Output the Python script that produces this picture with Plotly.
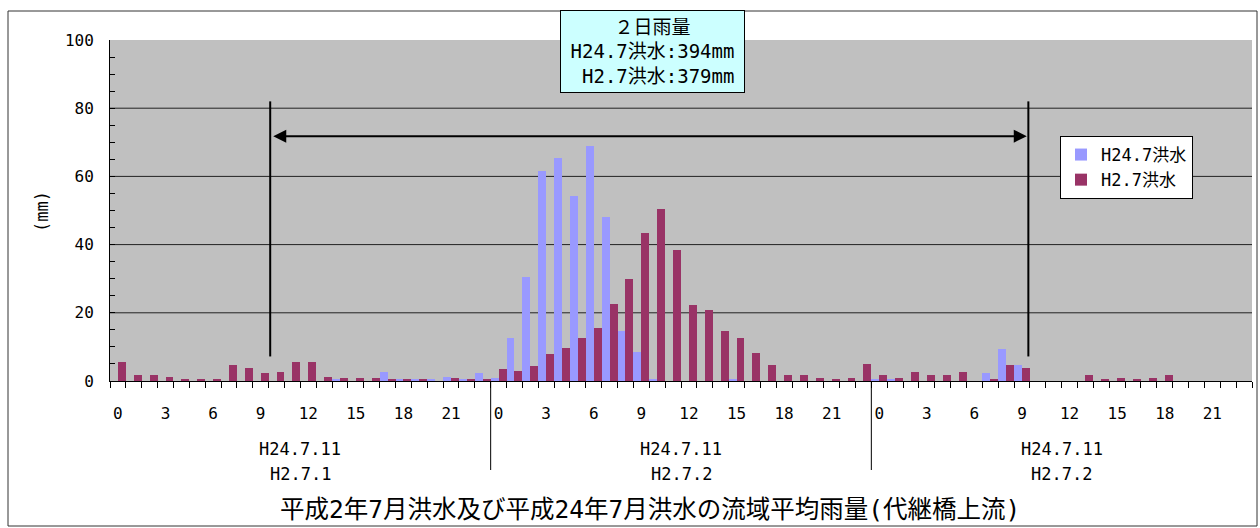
import plotly.graph_objects as go

# ---------------- data ----------------
hours = list(range(72))
hour_labels = [str(h % 24) for h in range(0, 72, 3)]
label_positions = list(range(0, 72, 3))

series_names = ["H24.7洪水", "H2.7洪水"]

h24_day1 = [0, 0, 0, 0, 0, 0, 0, 0, 0, 0, 0, 0, 0, 0, 0.3, 0, 0, 2.7, 0.3, 0.3, 0.3, 1.2, 0.3, 2.4]
h24_day2 = [1.0, 12.5, 30.4, 61.5, 65.3, 54.2, 68.9, 48.0, 14.8, 8.6, 0.3, 0, 0, 0, 0, 0.3, 0, 0, 0, 0, 0, 0, 0, 0]
h24_day3 = [0.3, 0.3, 0, 0, 0, 0, 0, 2.4, 9.5, 4.8, 0, 0, 0, 0, 0, 0, 0, 0, 0, 0, 0, 0, 0, 0]

h2_day1 = [5.7, 1.9, 1.9, 1.3, 0.4, 0.4, 0.4, 4.8, 3.9, 2.4, 2.7, 5.7, 5.7, 1.2, 1.0, 1.0, 1.0, 0.3, 0.3, 0.3, 0, 1.0, 0.3, 0.3]
h2_day2 = [3.4, 2.8, 4.4, 7.8, 9.6, 12.5, 15.4, 22.5, 29.8, 43.3, 50.4, 38.3, 22.2, 20.8, 14.6, 12.5, 8.1, 4.8, 1.9, 1.9, 1.0, 0.4, 1.0, 5.0]
h2_day3 = [1.9, 1.0, 2.7, 1.9, 1.9, 2.7, 0, 0.4, 4.8, 3.9, 0, 0, 0, 1.9, 0.4, 1.0, 0.4, 1.0, 1.9, 0, 0, 0, 0, 0]

h24_values = h24_day1 + h24_day2 + h24_day3
h2_values = h2_day1 + h2_day2 + h2_day3

day_centers = [11.5, 35.5, 59.5]
day_line1 = ["H24.7.11", "H24.7.11", "H24.7.11"]
day_line2 = ["H2.7.1", "H2.7.2", "H2.7.2"]
day_bounds = [23.5, 47.5]
grid_values = [20, 40, 60, 80]

box_text = "２日雨量<br>H24.7洪水:394mm<br> H2.7洪水:379mm"
title_text = "平成2年7月洪水及び平成24年7月洪水の流域平均雨量(代継橋上流)"
y_title = "(mm)"

window_start, window_end = 9.6, 57.4
arrow_y = 71.8
vline_top, vline_bottom = 82, 7.2

# ---------------- layout geometry (pixels) ----------------
W, H = 1260, 528
L, R, T, B = 110, 1252, 40, 381


def px_x(p):
    return (p - L) / (R - L)


def px_y(p):
    return (B - p) / (B - T)


FONT = "DejaVu Sans Mono, Noto Sans CJK JP, sans-serif"
BLUE = "#9999FF"
RED = "#993366"

fig = go.Figure()
fig.add_trace(go.Bar(x=hours, y=h24_values, name=series_names[0],
                     marker=dict(color=BLUE, line=dict(width=0))))
fig.add_trace(go.Bar(x=hours, y=h2_values, name=series_names[1],
                     marker=dict(color=RED, line=dict(width=0))))

shapes = []
# outer frame
shapes.append(dict(type="rect", xref="paper", yref="paper",
                   x0=px_x(8), x1=px_x(1257), y0=px_y(526), y1=px_y(11),
                   line=dict(color="#333333", width=1), layer="below"))
# gridlines
for g in grid_values:
    shapes.append(dict(type="line", xref="paper", yref="y", x0=0, x1=1, y0=g, y1=g,
                       line=dict(color="#222222", width=1), layer="below"))
# day separators
for d in day_bounds:
    shapes.append(dict(type="line", xref="x", yref="paper", x0=d, x1=d,
                       y0=0, y1=px_y(470), line=dict(color="black", width=1)))
# window vertical lines
for xv in (window_start, window_end):
    shapes.append(dict(type="line", xref="x", yref="y", x0=xv, x1=xv,
                       y0=vline_bottom, y1=vline_top, line=dict(color="black", width=2)))

annotations = []
# double arrow
annotations.append(dict(x=window_end - 0.1, y=arrow_y, ax=window_start + 0.1, ay=arrow_y,
                        xref="x", yref="y", axref="x", ayref="y", text="",
                        showarrow=True, arrowhead=2, arrowside="end+start",
                        arrowsize=1.3, arrowwidth=2, arrowcolor="black", standoff=0, startstandoff=0))
# day labels
for c, t1, t2 in zip(day_centers, day_line1, day_line2):
    annotations.append(dict(x=c, y=px_y(449), xref="x", yref="paper", text=t1,
                            showarrow=False, font=dict(family=FONT, size=17, color="black"),
                            xanchor="center", yanchor="middle"))
    annotations.append(dict(x=c, y=px_y(474), xref="x", yref="paper", text=t2,
                            showarrow=False, font=dict(family=FONT, size=17, color="black"),
                            xanchor="center", yanchor="middle"))
# rain box
annotations.append(dict(x=px_x(652.5), y=px_y(10), xref="paper", yref="paper",
                        text=box_text, showarrow=False, xanchor="center", yanchor="top",
                        width=183, height=81, align="center", valign="middle",
                        bgcolor="#CCFFFF", bordercolor="black", borderwidth=1, borderpad=0,
                        font=dict(family=FONT, size=19, color="black")))
# bottom title
annotations.append(dict(x=px_x(650), y=px_y(509), xref="paper", yref="paper",
                        text=title_text, showarrow=False, xanchor="center", yanchor="middle",
                        font=dict(family=FONT, size=24.5, color="black")))
# y axis title
annotations.append(dict(x=px_x(42), y=px_y(212), xref="paper", yref="paper",
                        text=y_title, showarrow=False, textangle=-90,
                        xanchor="center", yanchor="middle",
                        font=dict(family=FONT, size=17, color="black")))

fig.update_layout(
    width=W, height=H,
    margin=dict(l=L, r=W - R, t=T, b=H - B, pad=0),
    paper_bgcolor="white",
    plot_bgcolor="#C0C0C0",
    barmode="group", bargap=0, bargroupgap=0,
    showlegend=True,
    legend=dict(x=px_x(1060), y=px_y(136), xanchor="left", yanchor="top",
                bgcolor="white", bordercolor="black", borderwidth=1,
                font=dict(family=FONT, size=17, color="black"),
                itemwidth=30, tracegroupgap=0),
    shapes=shapes,
    annotations=annotations,
    font=dict(family=FONT, color="black"),
)

fig.update_xaxes(
    range=[-0.5, 71.5], tickmode="array", tickvals=label_positions, ticktext=hour_labels,
    ticks="", showgrid=False, zeroline=False, showline=True, linecolor="black", linewidth=1,
    tickfont=dict(family=FONT, size=16, color="black"), ticklabelstandoff=18,
    minor=dict(tickmode="linear", tick0=-0.5, dtick=1, ticks="outside", ticklen=6,
               tickcolor="black", tickwidth=1, showgrid=False),
    fixedrange=True,
)
fig.update_yaxes(
    range=[0, 100], tickmode="linear", tick0=0, dtick=20, ticks="inside", ticklen=5,
    tickcolor="black", showgrid=False, zeroline=False, showline=True, linecolor="black",
    linewidth=1, tickfont=dict(family=FONT, size=16, color="black"), ticklabelstandoff=12,
    minor=dict(tickmode="linear", tick0=0, dtick=5, ticks="inside", ticklen=5,
               tickcolor="black", showgrid=False),
    fixedrange=True,
)

fig.write_html("out.html", config={"displayModeBar": False},
               post_script="document.body.style.margin='0';")
